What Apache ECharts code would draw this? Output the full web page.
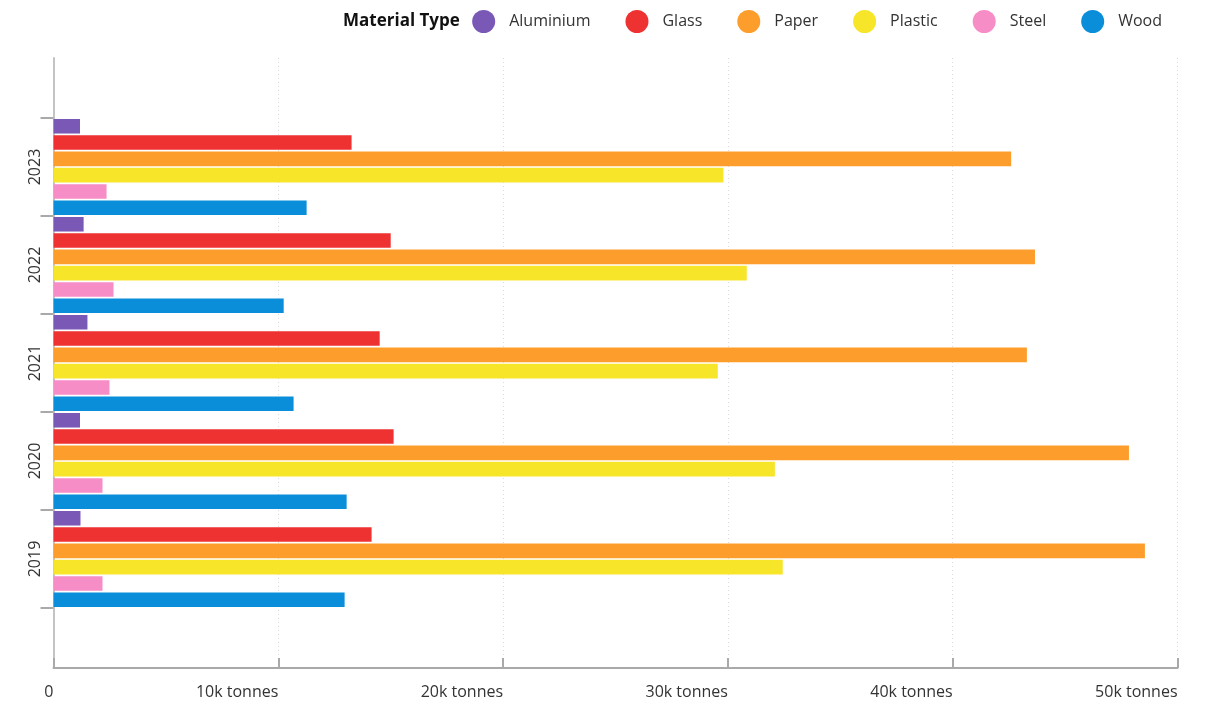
<!DOCTYPE html>
<html>
<head>
<meta charset="utf-8">
<title>Packaging material by year</title>
<script src="https://cdn.jsdelivr.net/npm/echarts@6/dist/echarts.min.js"></script>
<style>
  html, body { margin: 0; padding: 0; background: #ffffff; }
  #chart { width: 1211px; height: 704px; }
</style>
</head>
<body>
<div id="chart"></div>
<script>
// Years shown on the category axis (bottom to top)
const years = ['2019', '2020', '2021', '2022', '2023'];

// Tonnes of packaging per material, one value per year
const aluminium = [1200, 1180, 1510, 1340, 1180];
const glass     = [14150, 15130, 14510, 15000, 13260];
const paper     = [48550, 47840, 43300, 43660, 42600];
const plastic   = [32440, 32090, 29550, 30840, 29800];
const steel     = [2180, 2180, 2490, 2670, 2360];
const wood      = [12950, 13040, 10680, 10240, 11260];

// Value axis tick labels
const xTickLabels = ['0', '10k tonnes', '20k tonnes', '30k tonnes', '40k tonnes', '50k tonnes'];

const materials = [
  { name: 'Aluminium', data: aluminium, color: '#7a58b6' },
  { name: 'Glass',     data: glass,     color: '#ee3232' },
  { name: 'Paper',     data: paper,     color: '#fd9d2b' },
  { name: 'Plastic',   data: plastic,   color: '#f6e529' },
  { name: 'Steel',     data: steel,     color: '#f78dc7' },
  { name: 'Wood',      data: wood,      color: '#0b8ed9' }
];

const FONT = '"Open Sans", "DejaVu Sans", sans-serif';

// One bar series per material; the first series sits at the top of each year band
const barSeries = materials.map(m => ({
  name: m.name,
  type: 'bar',
  xAxisIndex: 0,
  yAxisIndex: 0,
  data: m.data,
  barGap: '12%',
  barCategoryGap: '2%',
  itemStyle: { color: m.color },
  emphasis: { disabled: true }
}));

const chart = echarts.init(document.getElementById('chart'), null, { renderer: 'canvas' });

chart.setOption({
  animation: false,
  backgroundColor: '#ffffff',
  textStyle: { fontFamily: FONT },
  title: {
    text: 'Material Type',
    left: 338,
    top: 8,
    textStyle: { fontFamily: FONT, fontSize: 17, fontWeight: 'bold', color: '#111111' }
  },
  legend: {
    data: materials.map(m => m.name),
    right: 44,
    top: 5,
    icon: 'circle',
    itemWidth: 23,
    itemHeight: 23,
    itemGap: 35,
    textStyle: { fontFamily: FONT, fontSize: 16, color: '#333333', padding: [0, 0, 0, 9] }
  },
  grid: [
    // bar area: spans the five year bands
    { left: 53.5, right: 33.5, top: 118, bottom: 96 },
    // frame: axes extend beyond the bar area
    { left: 53.5, right: 33.5, top: 58, bottom: 36 }
  ],
  xAxis: [
    {
      type: 'value', gridIndex: 0, min: 0, max: 50000, interval: 10000,
      show: false
    },
    {
      type: 'value', gridIndex: 1, min: 0, max: 50000, interval: 10000,
      axisLine: { show: true, lineStyle: { color: '#a9a9a9', width: 2 } },
      axisTick: { show: true, inside: true, length: 10, lineStyle: { color: '#a9a9a9', width: 2 } },
      axisLabel: {
        align: 'right',
        margin: 16,
        fontSize: 16,
        color: '#333333',
        fontFamily: FONT,
        formatter: (v) => xTickLabels[Math.round(v / 10000)]
      },
      splitLine: { show: true, lineStyle: { color: '#dcdcdc', type: [1, 3], width: 1 } }
    }
  ],
  yAxis: [
    {
      type: 'category', gridIndex: 0, data: years,
      axisLine: { show: false },
      axisTick: { show: true, length: 13, lineStyle: { color: '#a9a9a9', width: 2 } },
      axisLabel: { rotate: 90, margin: 10, fontSize: 16, color: '#333333', fontFamily: FONT },
      splitLine: { show: false }
    },
    {
      type: 'value', gridIndex: 1, min: 0, max: 1,
      axisLine: { show: true, lineStyle: { color: '#c4c4c4', width: 2 } },
      axisTick: { show: false },
      axisLabel: { show: false },
      splitLine: { show: false }
    }
  ],
  series: barSeries
});
</script>
</body>
</html>
